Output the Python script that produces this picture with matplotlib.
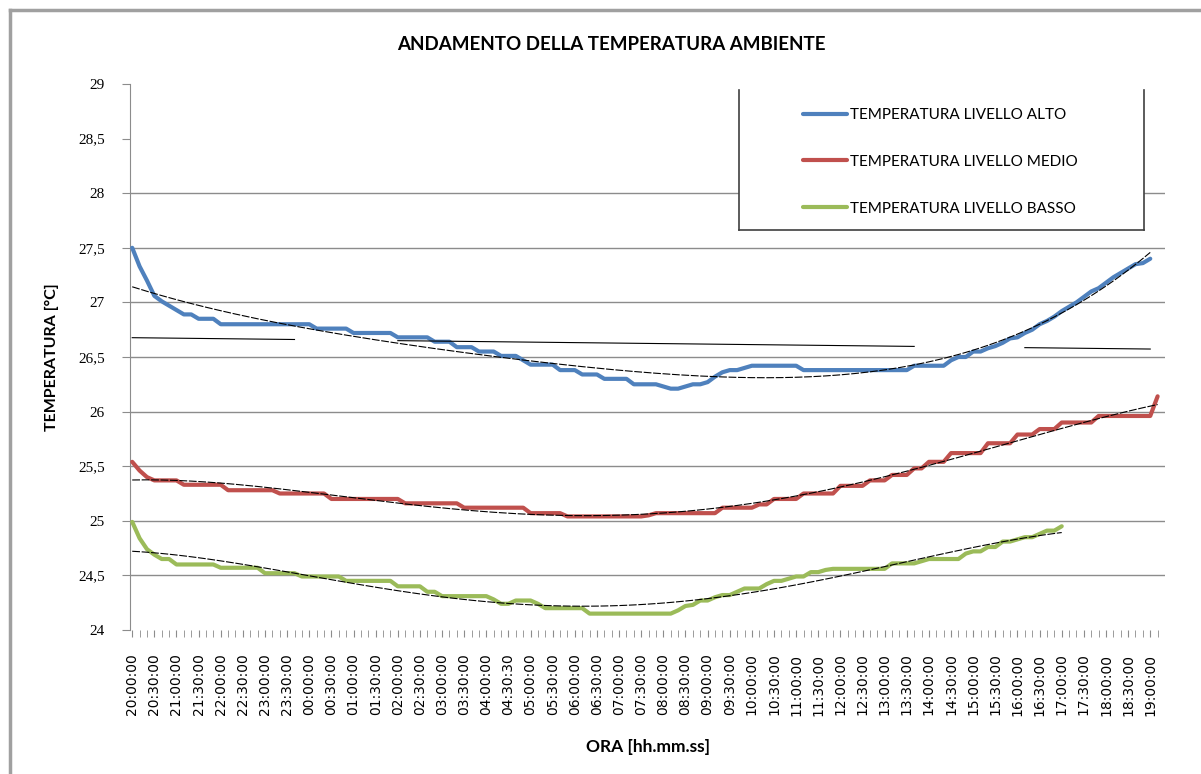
import matplotlib.pyplot as plt
import numpy as np
from matplotlib.lines import Line2D

# one reading every 10 minutes, starting at 20:00:00
temp_alto = [
    27.50, 27.33, 27.20, 27.06, 27.01, 26.97, 26.93, 26.89, 26.89, 26.85,
    26.85, 26.85, 26.80, 26.80, 26.80, 26.80, 26.80, 26.80, 26.80, 26.80,
    26.80, 26.80, 26.80, 26.80, 26.80, 26.76, 26.76, 26.76, 26.76, 26.76,
    26.72, 26.72, 26.72, 26.72, 26.72, 26.72, 26.68, 26.68, 26.68, 26.68,
    26.68, 26.64, 26.64, 26.64, 26.59, 26.59, 26.59, 26.55, 26.55, 26.55,
    26.51, 26.51, 26.51, 26.47, 26.43, 26.43, 26.43, 26.43, 26.38, 26.38,
    26.38, 26.34, 26.34, 26.34, 26.30, 26.30, 26.30, 26.30, 26.25, 26.25,
    26.25, 26.25, 26.23, 26.21, 26.21, 26.23, 26.25, 26.25, 26.27, 26.32,
    26.36, 26.38, 26.38, 26.40, 26.42, 26.42, 26.42, 26.42, 26.42, 26.42,
    26.42, 26.38, 26.38, 26.38, 26.38, 26.38, 26.38, 26.38, 26.38, 26.38,
    26.38, 26.38, 26.38, 26.38, 26.38, 26.38, 26.42, 26.42, 26.42, 26.42,
    26.42, 26.47, 26.50, 26.50, 26.55, 26.55, 26.58, 26.60, 26.63, 26.67,
    26.68, 26.72, 26.75, 26.80, 26.83, 26.87, 26.92, 26.96, 27.00, 27.05,
    27.10, 27.13, 27.18, 27.23, 27.27, 27.31, 27.35, 27.36, 27.40,
]
temp_medio = [
    25.54, 25.46, 25.40, 25.37, 25.37, 25.37, 25.37, 25.33, 25.33, 25.33,
    25.33, 25.33, 25.33, 25.28, 25.28, 25.28, 25.28, 25.28, 25.28, 25.28,
    25.25, 25.25, 25.25, 25.25, 25.25, 25.25, 25.25, 25.20, 25.20, 25.20,
    25.20, 25.20, 25.20, 25.20, 25.20, 25.20, 25.20, 25.16, 25.16, 25.16,
    25.16, 25.16, 25.16, 25.16, 25.16, 25.12, 25.12, 25.12, 25.12, 25.12,
    25.12, 25.12, 25.12, 25.12, 25.07, 25.07, 25.07, 25.07, 25.07, 25.04,
    25.04, 25.04, 25.04, 25.04, 25.04, 25.04, 25.04, 25.04, 25.04, 25.04,
    25.05, 25.07, 25.07, 25.07, 25.07, 25.07, 25.07, 25.07, 25.07, 25.07,
    25.12, 25.12, 25.12, 25.12, 25.12, 25.15, 25.15, 25.20, 25.20, 25.20,
    25.20, 25.25, 25.25, 25.25, 25.25, 25.25, 25.32, 25.32, 25.32, 25.32,
    25.37, 25.37, 25.37, 25.42, 25.42, 25.42, 25.48, 25.48, 25.54, 25.54,
    25.54, 25.62, 25.62, 25.62, 25.62, 25.62, 25.71, 25.71, 25.71, 25.71,
    25.79, 25.79, 25.79, 25.84, 25.84, 25.84, 25.90, 25.90, 25.90, 25.90,
    25.90, 25.96, 25.96, 25.96, 25.96, 25.96, 25.96, 25.96, 25.96, 26.14,
]
temp_basso = [
    24.99, 24.84, 24.74, 24.69, 24.65, 24.65, 24.60, 24.60, 24.60, 24.60,
    24.60, 24.60, 24.57, 24.57, 24.57, 24.57, 24.57, 24.57, 24.52, 24.52,
    24.52, 24.52, 24.52, 24.49, 24.49, 24.49, 24.49, 24.49, 24.49, 24.45,
    24.45, 24.45, 24.45, 24.45, 24.45, 24.45, 24.40, 24.40, 24.40, 24.40,
    24.35, 24.35, 24.31, 24.31, 24.31, 24.31, 24.31, 24.31, 24.31, 24.28,
    24.24, 24.24, 24.27, 24.27, 24.27, 24.24, 24.20, 24.20, 24.20, 24.20,
    24.20, 24.20, 24.15, 24.15, 24.15, 24.15, 24.15, 24.15, 24.15, 24.15,
    24.15, 24.15, 24.15, 24.15, 24.18, 24.22, 24.23, 24.27, 24.27, 24.30,
    24.32, 24.32, 24.35, 24.38, 24.38, 24.38, 24.42, 24.45, 24.45, 24.47,
    24.49, 24.49, 24.53, 24.53, 24.55, 24.56, 24.56, 24.56, 24.56, 24.56,
    24.56, 24.56, 24.56, 24.61, 24.61, 24.61, 24.61, 24.63, 24.65, 24.65,
    24.65, 24.65, 24.65, 24.70, 24.72, 24.72, 24.76, 24.76, 24.81, 24.81,
    24.83, 24.85, 24.85, 24.88, 24.91, 24.91, 24.95,
]
time_labels = [
    "20:00:00", "20:30:00", "21:00:00", "21:30:00", "22:00:00", "22:30:00",
    "23:00:00", "23:30:00", "00:00:00", "00:30:00", "01:00:00", "01:30:00",
    "02:00:00", "02:30:00", "03:00:00", "03:30:00", "04:00:00", "04:30:30",
    "05:00:00", "05:30:00", "06:00:00", "06:30:00", "07:00:00", "07:30:00",
    "08:00:00", "08:30:00", "09:00:00", "09:30:00", "10:00:00", "10:30:00",
    "11:00:00", "11:30:00", "12:00:00", "12:30:00", "13:00:00", "13:30:00",
    "14:00:00", "14:30:00", "15:00:00", "15:30:00", "16:00:00", "16:30:00",
    "17:00:00", "17:30:00", "18:00:00", "18:30:00", "19:00:00",
]
series_names = [
    "TEMPERATURA LIVELLO ALTO",
    "TEMPERATURA LIVELLO MEDIO",
    "TEMPERATURA LIVELLO BASSO",
]
colors = ["#4F81BD", "#C0504D", "#9BBB59"]
grid_gray = "#8C8C8C"

fig = plt.figure(figsize=(12.01, 7.74), dpi=100)
ax = fig.add_axes([130 / 1201, 1 - 630 / 774, 1035 / 1201, 546 / 774])

all_series = [temp_alto, temp_medio, temp_basso]
for values, name, color in zip(all_series, series_names, colors):
    x = np.arange(len(values))
    ax.plot(x, values, color=color, lw=3, label=name, solid_capstyle="round",
            zorder=3)

# excel-like polynomial trend lines
for values in all_series:
    x = np.arange(len(values))
    coef = np.polyfit(x, values, 4)
    ax.plot(x, np.polyval(coef, x), color="black", lw=0.8,
            dashes=(7, 1.5), zorder=4)

# linear trend of the top series (drawn broken, as in the original export)
x_alto = np.arange(len(temp_alto))
lin_y = np.polyval(np.polyfit(x_alto, temp_alto, 1), x_alto)
lin_y[(x_alto > 22) & (x_alto < 36)] = np.nan
lin_y[(x_alto > 106) & (x_alto < 121)] = np.nan
ax.plot(x_alto, lin_y, color="black", lw=0.8, zorder=4)

ax.set_ylim(24, 29)
ax.set_xlim(-0.3, 140)
yticks = np.arange(24, 29.01, 0.5)
ax.set_yticks(yticks)
ax.set_yticklabels([f"{v:g}".replace(".", ",") for v in yticks],
                   family="Liberation Serif", fontsize=11)
ax.yaxis.grid(True, color=grid_gray, lw=1)
for gl, v in zip(ax.get_ygridlines(), yticks):
    if v > 28 or v == 24:
        gl.set_visible(False)
ax.tick_params(axis="y", length=6, color=grid_gray, pad=12)

ax.set_xticks(np.arange(0, 139, 3))
ax.set_xticklabels(time_labels, rotation=90, family="DejaVu Sans",
                   fontsize=10)
ax.set_xticks(np.arange(0, 140), minor=True)
ax.tick_params(axis="x", which="both", length=5, color=grid_gray, pad=12)

for side in ["top", "right", "bottom"]:
    ax.spines[side].set_visible(False)
ax.spines["left"].set_color(grid_gray)

ax.set_ylabel("TEMPERATURA [°C]", family="Lato", fontweight="bold",
              fontsize=11.5)
ax.yaxis.set_label_coords(-0.069, 0.5)
ax.set_xlabel("ORA [hh.mm.ss]", family="Lato", fontweight="bold",
              fontsize=12.5)
ax.xaxis.set_label_coords(0.5, -0.199)

fig.text(611 / 1201, 1 - 44 / 774, "ANDAMENTO DELLA TEMPERATURA AMBIENTE",
         ha="center", va="center", family="Lato", fontweight="bold",
         fontsize=13.5)

# legend, drawn over a white box with no top border
ax.add_patch(plt.Rectangle((739 / 1201, 1 - 230 / 774), 405 / 1201,
                           140 / 774, transform=fig.transFigure,
                           facecolor="white", edgecolor="none", zorder=5))
for xs, ys in [([739, 739], [90, 230]), ([739, 1144], [230, 230]),
               ([1144, 1144], [90, 230])]:
    fig.add_artist(Line2D([v / 1201 for v in xs], [1 - v / 774 for v in ys],
                          color="#404040", lw=1.2))
leg = ax.legend(loc="upper left", bbox_to_anchor=(803 / 1201, 1 - 108 / 774),
                bbox_transform=fig.transFigure, frameon=False,
                prop={"family": "Lato", "size": 11}, handlelength=2.9,
                handletextpad=0.15, labelspacing=2.15, borderpad=0,
                borderaxespad=0)
leg.set_zorder(6)

# outer chart frame
fig.add_artist(Line2D([10 / 1201, 10 / 1201], [0, 1 - 10 / 774],
                      color="#A0A0A0", lw=2.5))
fig.add_artist(Line2D([10 / 1201, 1], [1 - 10 / 774, 1 - 10 / 774],
                      color="#A0A0A0", lw=2.5))

fig.savefig("out.png", dpi=100)
